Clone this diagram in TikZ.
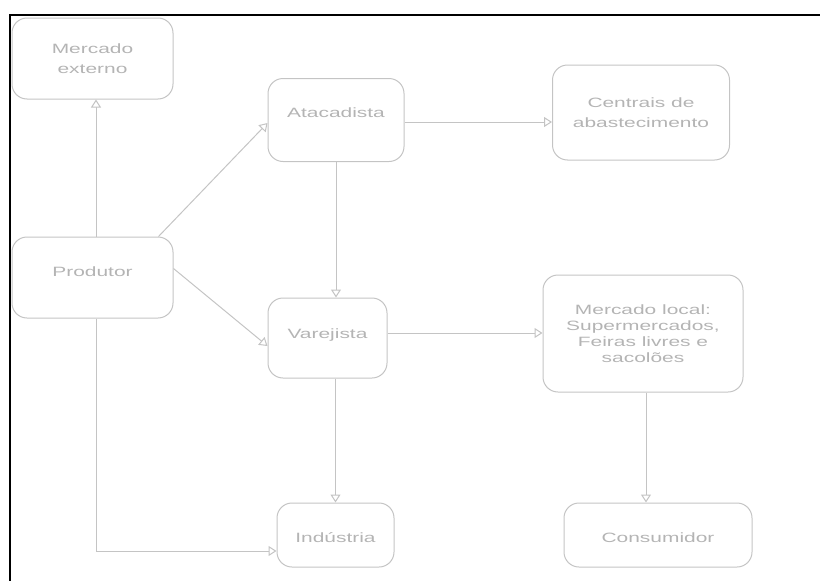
\documentclass[tikz,border=0pt]{standalone}
\usepackage{fontspec}
\usetikzlibrary{arrows.meta}
\newfontfamily\boxfont{Liberation Sans}[FakeStretch=1.55]
\definecolor{linegray}{HTML}{C4C4C4}
\definecolor{textgray}{HTML}{B4B4B4}
\tikzset{
  box/.style={draw=linegray, line width=1pt, rounded corners=15pt, inner sep=0pt,
    text=textgray, align=center, font=\boxfont\fontsize{13.5}{20}\selectfont},
  conn/.style={draw=linegray, line width=1pt,
    -{Triangle[length=8pt,width=10pt,fill=white]}},
}
\begin{document}
\begin{tikzpicture}[x=1pt,y=-1pt]
\useasboundingbox (0,0) rectangle (820,581);
% frame
\draw[line width=2pt, black] (10,581) -- (10,15.3) -- (820,15.3);
% boxes
\node[box, minimum width=161pt, minimum height=81pt] (ext) at (92.5,58.5) {Mercado\\externo};
\node[box, minimum width=136pt, minimum height=83pt, text depth=14pt] (ata) at (336,120) {Atacadista};
\node[box, minimum width=177pt, minimum height=95pt] (cen) at (641,112.5) {Centrais de\\abastecimento};
\node[box, minimum width=161pt, minimum height=81pt, text depth=12pt] (pro) at (92.5,277.5) {Produtor};
\node[box, minimum width=119pt, minimum height=80pt, text depth=9pt] (var) at (327.5,338) {Varejista};
\node[box, minimum width=200pt, minimum height=117pt, font=\boxfont\fontsize{13.5}{16}\selectfont] (loc) at (643,333.5) {Mercado local:\\Supermercados,\\Feiras livres e\\sacolões};
\node[box, minimum width=117pt, minimum height=64pt, text height=15pt, text depth=0pt] (ind) at (335.5,535) {Indústria};
\node[box, minimum width=188pt, minimum height=64pt, text height=15pt, text depth=0pt] (con) at (658,535) {Consumidor};
% connectors
\draw[conn] ([xshift=3.5pt]pro.north) -- ([xshift=3.5pt]ext.south);
\draw[conn] ([xshift=-15pt]pro.north east) -- ([yshift=-3pt]ata.west);
\draw[conn] ([yshift=-32pt]pro.north east) -- ([yshift=-8pt]var.west);
\draw[conn] ([yshift=-2pt]ata.east) -- ([yshift=-2pt]ata.east -| cen.west);
\draw[conn] (ata.south) -- (ata.south |- var.north);
\draw[conn] ([yshift=5pt]var.east) -- ([yshift=5pt]var.east -| loc.west);
\draw[conn] (ind.north |- var.south) -- (ind.north);
\draw[conn] ([xshift=3pt]loc.south) -- ([xshift=3pt]loc.south |- con.north);
\draw[conn] ([xshift=3.5pt]pro.south) |- ([yshift=-16pt]ind.west);
\end{tikzpicture}
\end{document}
